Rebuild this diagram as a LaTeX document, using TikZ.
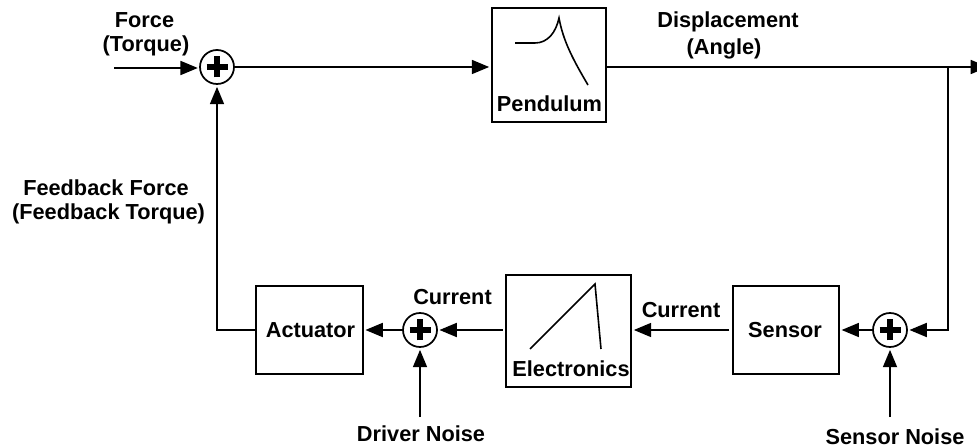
\documentclass[tikz,border=0pt]{standalone}
\usepackage{fontspec}
\setmainfont{Liberation Sans}
\usetikzlibrary{arrows.meta}
\tikzset{
  x=0.75pt,y=-0.75pt,
  blockbox/.style={draw,line width=1.5pt,inner sep=0pt,fill=none},
  sumnode/.style={draw,circle,line width=1.3pt,minimum size=25.5pt,inner sep=0pt},
  plusbar/.style={line width=4.4pt},
  link/.style={line width=1.3pt,-{Triangle[length=13pt,width=10.5pt]}},
  curve/.style={line width=1.2pt},
  lbl/.style={font=\fontsize{16.3pt}{19.5pt}\selectfont\bfseries,align=center,inner sep=0pt}
}
\begin{document}
\begin{tikzpicture}
\useasboundingbox (0,0) rectangle (977,448);
% blocks
\node[blockbox,minimum width=85.5pt,minimum height=85.5pt] (pend) at (548.5,65) {};
\node[blockbox,minimum width=93.5pt,minimum height=84pt] (elec) at (568.5,331) {};
\node[blockbox,minimum width=79.5pt,minimum height=66pt] (sens) at (786,330) {};
\node[blockbox,minimum width=80pt,minimum height=66pt] (act) at (309.5,330) {};
% summers
\node[sumnode] (s1) at (217,67) {};
\node[sumnode] (s2) at (420,330) {};
\node[sumnode] (s3) at (890,330) {};
\foreach \s in {s1,s2,s3}{
  \draw[plusbar] ([xshift=-10.5*0.75pt]\s.center) -- ([xshift=10.5*0.75pt]\s.center);
  \draw[plusbar] ([yshift=-10.5*0.75pt]\s.center) -- ([yshift=10.5*0.75pt]\s.center);
}
% free ends
\coordinate (in) at (114,68);
\coordinate (out) at (988,67);
\coordinate (branch) at (948,67);
\coordinate (dn) at (420,417);
\coordinate (sn) at (890,417);
% connectors
\draw[link,shorten >=1pt] (in) -- (in -| s1.west);
\draw[link,shorten >=1pt] (s1.east) -- (s1.east -| pend.west);
\draw[link] (pend.east |- out) -- (out);
\draw[link,shorten >=1.2pt] (branch) |- (s3.east);
\draw[link,shorten >=1.2pt] (s3.west) -- (sens.east |- s3.west);
\draw[link,shorten >=1.5pt,shorten <=2pt] (sens.west) -- (elec.east |- sens.west);
\draw[link,shorten >=1.2pt,shorten <=2pt] (elec.west |- s2.east) -- (s2.east);
\draw[link,shorten >=1.2pt] (s2.west) -- (act.east |- s2.west);
\draw[link,shorten >=1.5pt] (act.west) -| (s1.south);
\draw[link,shorten >=1.5pt] (dn) -- (s2.south);
\draw[link,shorten >=1.5pt] (sn) -- (s3.south);
% transfer sketches
\draw[curve] (515,43) -- (535,43) .. controls (548,43) and (556,32) .. (559,18) .. controls (563,40) and (572,58) .. (588,85);
\draw[curve] (530,349) -- (595,284) -- (601,349);
% labels
\node[lbl] (tPend) at (549.5,104) {Pendulum};
\node[lbl] (tElec) at (571,369) {Electronics};
\node[lbl] (tSens) at (785,330) {Sensor};
\node[lbl] (tAct) at (310.5,330) {Actuator};
\node[lbl] (tF) at (144.5,20) {Force};
\node[lbl] (tT) at (146,46) {(Torque)};
\node[lbl] (tD) at (728,22) {Displacement};
\node[lbl] (tA) at (724,49) {(Angle)};
\node[lbl] (tFF) at (106,188) {Feedback Force};
\node[lbl] (tFT) at (108.5,214) {(Feedback Torque)};
\node[lbl] (tC1) at (452.5,297) {Current};
\node[lbl] (tC2) at (681,310) {Current};
\node[lbl] (tDN) at (421,434) {Driver Noise};
\node[lbl] (tSN) at (895,437) {Sensor Noise};
\end{tikzpicture}
\end{document}
